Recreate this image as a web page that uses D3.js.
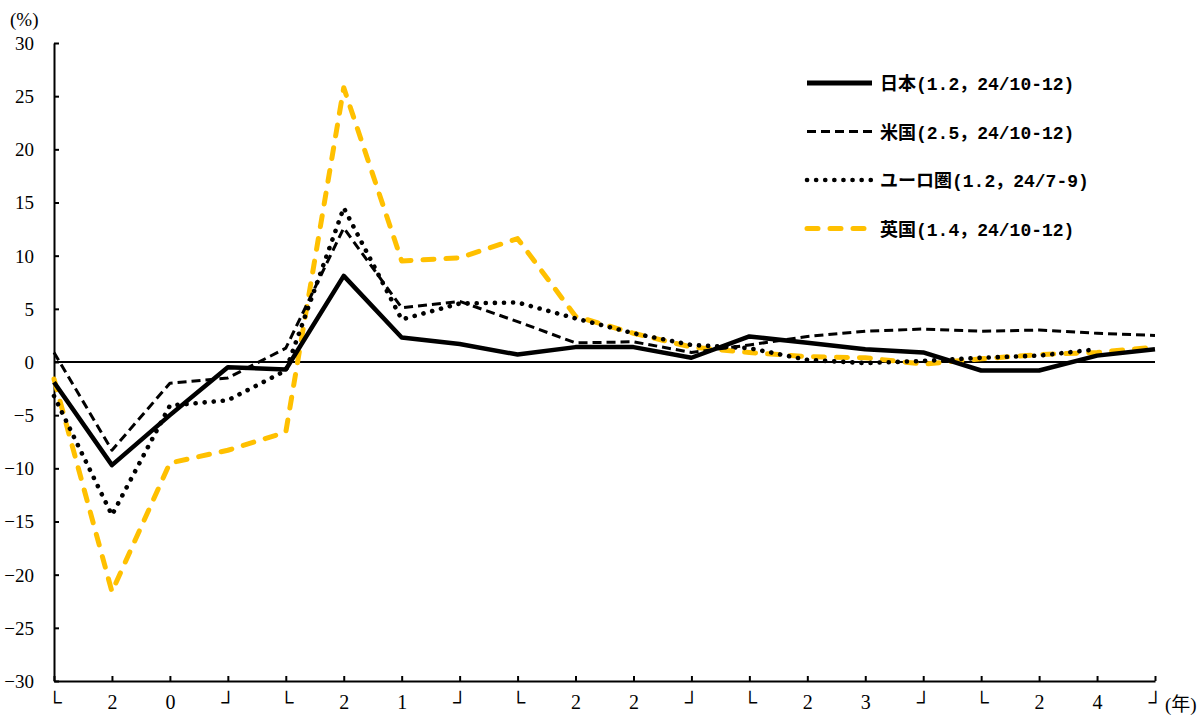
<!DOCTYPE html>
<html>
<head>
<meta charset="utf-8">
<script src="https://cdn.jsdelivr.net/npm/d3@7"></script>
<style>
  body { margin: 0; background: #fff; }
  svg text { font-family: "Liberation Serif", "Noto Sans CJK JP", serif; fill: #000; }
  .legend text { font-family: "Liberation Mono", "Noto Sans CJK JP", monospace; font-weight: bold; }
</style>
</head>
<body>
<div id="chart"></div>
<script>
// quarters 2020Q1 .. 2024Q4, tick labels as printed
let xLabels = ["└", "2", "0", "┘", "└", "2", "1", "┘", "└", "2", "2", "┘", "└", "2", "3", "┘", "└", "2", "4", "┘"];
let yTicks = [-30, -25, -20, -15, -10, -5, 0, 5, 10, 15, 20, 25, 30];

// real GDP growth, y/y (%)
let japan = [-1.9, -9.7, -5.0, -0.5, -0.7, 8.1, 2.3, 1.7, 0.7, 1.4, 1.4, 0.4, 2.4, 1.8, 1.2, 0.9, -0.8, -0.8, 0.6, 1.2];
let us    = [0.9, -8.3, -2.0, -1.5, 1.3, 12.6, 5.1, 5.7, 3.8, 1.8, 1.9, 0.9, 1.6, 2.4, 2.9, 3.1, 2.9, 3.0, 2.7, 2.5];
let euro  = [-3.2, -14.4, -4.1, -3.6, -0.8, 14.5, 4.0, 5.5, 5.6, 4.1, 2.7, 1.6, 1.3, 0.2, -0.1, 0.1, 0.4, 0.6, 1.2];
let uk    = [-1.6, -21.6, -9.5, -8.3, -6.6, 25.8, 9.5, 9.8, 11.6, 4.3, 2.7, 1.4, 0.9, 0.5, 0.4, -0.2, 0.3, 0.7, 0.9, 1.4];

let names = ["日本(1.2，24/10-12)", "米国(2.5，24/10-12)", "ユーロ圏(1.2，24/7-9)", "英国(1.4，24/10-12)"];

let series = [
    {name: names[0], values: japan, color: "#000", width: 4.5, dash: null, cap: "butt"},
    {name: names[1], values: us, color: "#000", width: 3, dash: "9,5", cap: "butt"},
    {name: names[2], values: euro, color: "#000", width: 4.6, dash: "0.1,9", cap: "round"},
    {name: names[3], values: uk, color: "#FFC000", width: 5, dash: "11,12", cap: "round"}
];

let width = 1204, height = 715;

let x = d3.scalePoint().domain(d3.range(xLabels.length)).range([54, 1155]);
let y = d3.scaleLinear().domain([-30, 30]).range([681, 43]);

let svg = d3.select("#chart").append("svg")
    .attr("width", width)
    .attr("height", height);

// zero line
svg.append("line")
    .attr("x1", x(0)).attr("x2", x(xLabels.length - 1))
    .attr("y1", y(0)).attr("y2", y(0))
    .attr("stroke", "#000").attr("stroke-width", 1.8);

// y axis
svg.append("g")
    .attr("transform", "translate(" + x(0) + ",0)")
    .call(d3.axisLeft(y).tickValues(yTicks).tickSizeInner(-5).tickSizeOuter(0).tickPadding(20))
    .call(g => g.selectAll("path, line").attr("stroke", "#000").attr("stroke-width", 2))
    .call(g => g.selectAll("text").attr("font-size", 19).attr("dy", "0.34em"));

// x axis
svg.append("g")
    .attr("transform", "translate(0," + y(-30) + ")")
    .call(d3.axisBottom(x).tickFormat(i => xLabels[i]).tickSizeInner(-5).tickSizeOuter(0).tickPadding(14))
    .call(g => g.selectAll("path, line").attr("stroke", "#000").attr("stroke-width", 2))
    .call(g => g.selectAll("text").attr("font-size", 20));

// unit labels
svg.append("text").attr("x", 10).attr("y", 26).attr("font-size", 19).text("(%)");
svg.append("text").attr("x", 1165).attr("y", 711).attr("font-size", 19).text("(年)");

let line = d3.line()
    .x((d, i) => x(i))
    .y(d => y(d));

// draw order: UK below, Japan on top
[3, 2, 1, 0].forEach(k => {
    let s = series[k];
    svg.append("path")
        .datum(s.values)
        .attr("fill", "none")
        .attr("stroke", s.color)
        .attr("stroke-width", s.width)
        .attr("stroke-dasharray", s.dash)
        .attr("stroke-linecap", s.cap)
        .attr("stroke-linejoin", "round")
        .attr("d", line);
});

// legend
let legend = svg.append("g").attr("class", "legend");
series.forEach((s, i) => {
    let ly = 83 + i * 48.5;
    legend.append("line")
        .attr("x1", 807).attr("x2", 872)
        .attr("y1", ly).attr("y2", ly)
        .attr("stroke", s.color)
        .attr("stroke-width", s.width + (i == 0 ? 0.5 : 0))
        .attr("stroke-dasharray", s.dash)
        .attr("stroke-linecap", s.cap);
    legend.append("text")
        .attr("x", 880).attr("y", ly + 7)
        .attr("font-size", 18)
        .text(s.name);
});
</script>
</body>
</html>
